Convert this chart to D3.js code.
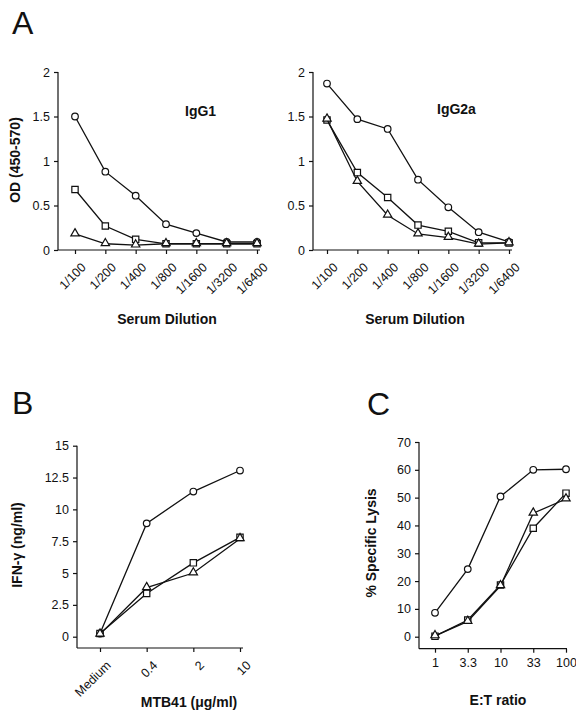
<!DOCTYPE html>
<html>
<head>
<meta charset="utf-8">
<script src="https://cdn.jsdelivr.net/npm/d3@7"></script>
<style>
  html, body { margin: 0; padding: 0; background: #fff; }
  svg { display: block; font-family: "Liberation Sans", Arial, Helvetica, sans-serif; }
  .tick text { font-size: 12.5px; fill: #111; }
  .tick line, .axisline { stroke: #111; stroke-width: 1.2; }
  .title { font-size: 14px; font-weight: bold; fill: #111; }
  .panel { font-size: 32px; fill: #111; }
  .series { fill: none; stroke: #111; stroke-width: 1.3; }
  .marker { fill: #fff; stroke: #111; stroke-width: 1.2; }
</style>
</head>
<body>
<svg id="fig" width="576" height="713"></svg>
<script>
// Panel A: antibody OD by serum dilution
const dilutions = ["1/100", "1/200", "1/400", "1/800", "1/1600", "1/3200", "1/6400"];
const odTicks = [0, 0.5, 1, 1.5, 2];
const igg1Circle   = [1.50, 0.88, 0.61, 0.29, 0.19, 0.09, 0.09];
const igg1Square   = [0.68, 0.27, 0.12, 0.07, 0.07, 0.07, 0.07];
const igg1Triangle = [0.18, 0.07, 0.055, 0.07, 0.07, 0.07, 0.07];
const igg2aCircle   = [1.87, 1.47, 1.36, 0.79, 0.48, 0.20, 0.09];
const igg2aSquare   = [1.46, 0.87, 0.59, 0.28, 0.21, 0.08, 0.08];
const igg2aTriangle = [1.47, 0.77, 0.39, 0.18, 0.14, 0.065, 0.08];

// Panel B: IFN-gamma by MTB41 concentration
const mtbDoses = ["Medium", "0.4", "2", "10"];
const ifnTicks = [0, 2.5, 5, 7.5, 10, 12.5, 15];
const ifnCircle   = [0.25, 8.9, 11.4, 13.05];
const ifnSquare   = [0.25, 3.4, 5.8, 7.8];
const ifnTriangle = [0.2, 3.85, 5.0, 7.7];

// Panel C: specific lysis by E:T ratio
const etRatios = ["1", "3.3", "10", "33", "100"];
const lysisTicks = [0, 10, 20, 30, 40, 50, 60, 70];
const lysisCircle   = [8.6, 24.3, 50.4, 60.0, 60.2];
const lysisSquare   = [0.2, 6.0, 18.6, 39.0, 51.6];
const lysisTriangle = [0.3, 5.5, 18.3, 44.4, 49.5];

const svg = d3.select("#fig");

const triPath = d3.symbol().type(d3.symbolTriangle).size(30)();
const sqPath  = d3.symbol().type(d3.symbolSquare).size(40)();

function drawSeries(g, x, y, cats, vals, shape) {
  const pts = cats.map((c, i) => [x(c), y(vals[i])]);
  g.append("path").attr("class", "series").attr("d", d3.line()(pts));
  const m = g.selectAll(null).data(pts).enter();
  if (shape === "circle") {
    m.append("circle").attr("class", "marker")
      .attr("cx", d => d[0]).attr("cy", d => d[1]).attr("r", 3.3);
  } else if (shape === "square") {
    m.append("path").attr("class", "marker").attr("d", sqPath)
      .attr("transform", d => `translate(${d[0]},${d[1]})`);
  } else {
    m.append("path").attr("class", "marker").attr("d", triPath)
      .attr("transform", d => `translate(${d[0]},${d[1] - 0.5})`);
  }
}

function panel(opt) {
  const g = svg.append("g");
  const x = d3.scalePoint().domain(opt.cats).range(opt.xRange);
  const y = d3.scaleLinear().domain(opt.yDomain).range(opt.yRange);

  // y axis
  const ya = g.append("g").attr("transform", `translate(${opt.axisX},0)`)
    .call(d3.axisLeft(y).tickValues(opt.yTicks).tickSize(4).tickPadding(4)
      .tickFormat(d => String(d)).tickSizeOuter(0));
  ya.select(".domain").remove();

  // x axis
  const xa = g.append("g").attr("transform", `translate(0,${opt.axisY})`)
    .call(d3.axisBottom(x).tickSize(4).tickPadding(opt.rotate ? 3 : 5).tickSizeOuter(0));
  xa.select(".domain").remove();
  if (opt.rotate) {
    xa.selectAll("text")
      .attr("text-anchor", "end")
      .attr("dy", "0.35em")
      .attr("transform", "translate(3,10) rotate(-45)");
  }

  g.append("line").attr("class", "axisline")
    .attr("x1", opt.axisX).attr("x2", opt.axisX)
    .attr("y1", y(opt.yDomain[1])).attr("y2", opt.axisY);
  g.append("line").attr("class", "axisline")
    .attr("x1", opt.axisX).attr("x2", opt.xEnd)
    .attr("y1", opt.axisY).attr("y2", opt.axisY);

  opt.series.forEach(s => drawSeries(g, x, y, opt.cats, s[0], s[1]));
  return g;
}

// Panel A, left: IgG1
panel({
  cats: dilutions, xRange: [75, 257], xEnd: 260,
  yDomain: [0, 2], yRange: [250, 72], yTicks: odTicks,
  axisX: 58, axisY: 250, rotate: true,
  series: [[igg1Circle, "circle"], [igg1Square, "square"], [igg1Triangle, "triangle"]]
});
// Panel A, right: IgG2a
panel({
  cats: dilutions, xRange: [327, 509], xEnd: 512,
  yDomain: [0, 2], yRange: [250, 72], yTicks: odTicks,
  axisX: 313, axisY: 250, rotate: true,
  series: [[igg2aCircle, "circle"], [igg2aSquare, "square"], [igg2aTriangle, "triangle"]]
});
// Panel B
panel({
  cats: mtbDoses, xRange: [100, 240], xEnd: 243,
  yDomain: [0, 15], yRange: [636.7, 445.7], yTicks: ifnTicks,
  axisX: 77, axisY: 648, rotate: true,
  series: [[ifnCircle, "circle"], [ifnSquare, "square"], [ifnTriangle, "triangle"]]
});
// Panel C
panel({
  cats: etRatios, xRange: [435, 566], xEnd: 567,
  yDomain: [0, 70], yRange: [636.7, 442], yTicks: lysisTicks,
  axisX: 419, axisY: 648.7, rotate: false,
  series: [[lysisCircle, "circle"], [lysisSquare, "square"], [lysisTriangle, "triangle"]]
});

// Panel letters
svg.append("text").attr("class", "panel").attr("x", 12).attr("y", 34).text("A");
svg.append("text").attr("class", "panel").attr("x", 12).attr("y", 414).text("B");
svg.append("text").attr("class", "panel").attr("x", 367).attr("y", 415).text("C");

// In-plot labels
svg.append("text").attr("class", "title").attr("font-size", "12px").attr("x", 185).attr("y", 116).text("IgG1");
svg.append("text").attr("class", "title").attr("font-size", "12px").attr("x", 437).attr("y", 114).text("IgG2a");

// Axis titles
function xTitle(x, y, t) {
  svg.append("text").attr("class", "title").attr("text-anchor", "middle")
    .attr("x", x).attr("y", y).text(t);
}
function yTitle(x, y, t) {
  svg.append("text").attr("class", "title").attr("text-anchor", "middle")
    .attr("transform", `translate(${x},${y}) rotate(-90)`).text(t);
}
xTitle(167, 324, "Serum Dilution");
xTitle(415, 324, "Serum Dilution");
yTitle(20, 160, "OD (450-570)");
xTitle(189, 707, "MTB41 (\u03bcg/ml)");
yTitle(22, 545, "IFN-\u03b3 (ng/ml)");
xTitle(498, 705, "E:T ratio");
yTitle(376, 543, "% Specific Lysis");
</script>
</body>
</html>
